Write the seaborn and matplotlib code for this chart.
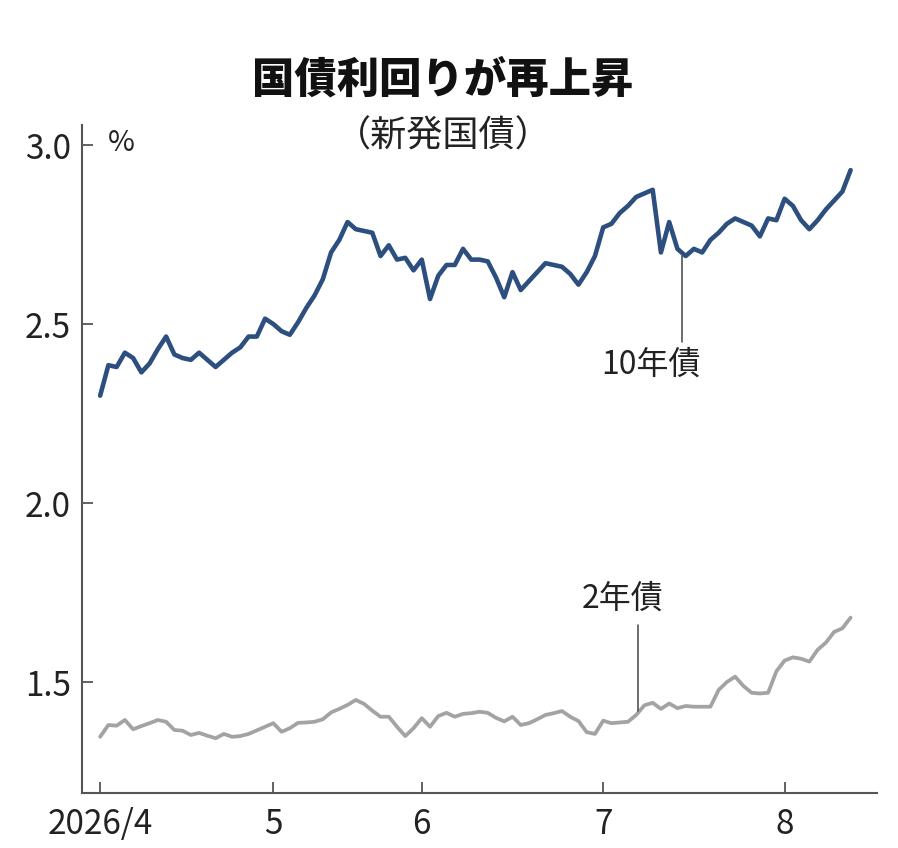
import matplotlib
matplotlib.use("Agg")
import matplotlib.pyplot as plt
import pandas as pd
import seaborn as sns

# trading-day index, Apr 1 2026 -> mid Aug 2026
month_ticks = [0, 21, 39, 61, 83]
month_labels = ["2026/4", "5", "6", "7", "8"]

yield_10y = [
    2.30, 2.385, 2.38, 2.42, 2.405, 2.365, 2.39, 2.43, 2.465, 2.415,
    2.405, 2.40, 2.42, 2.40, 2.38, 2.40, 2.42, 2.435, 2.465, 2.465,
    2.515, 2.50, 2.48, 2.47, 2.505, 2.545, 2.58, 2.625, 2.70, 2.735,
    2.785, 2.765, 2.76, 2.755, 2.69, 2.72, 2.68, 2.685, 2.65, 2.68,
    2.57, 2.635, 2.665, 2.665, 2.71, 2.68, 2.68, 2.675, 2.63, 2.575,
    2.645, 2.595, 2.62, 2.645, 2.67, 2.665, 2.66, 2.64, 2.61, 2.645,
    2.69, 2.77, 2.78, 2.81, 2.83, 2.855, 2.865, 2.875, 2.70, 2.785,
    2.71, 2.69, 2.71, 2.70, 2.735, 2.755, 2.78, 2.795, 2.785, 2.775,
    2.745, 2.795, 2.79, 2.85, 2.83, 2.79, 2.765, 2.79, 2.82, 2.845,
    2.87, 2.93,
]

yield_2y = [
    1.347, 1.38, 1.378, 1.394, 1.368, 1.377, 1.385, 1.394, 1.389, 1.366,
    1.364, 1.352, 1.358, 1.35, 1.343, 1.355, 1.347, 1.349, 1.355, 1.365,
    1.375, 1.385, 1.361, 1.371, 1.386, 1.387, 1.389, 1.396, 1.415, 1.425,
    1.436, 1.45, 1.439, 1.42, 1.403, 1.403, 1.375, 1.349, 1.371, 1.399,
    1.375, 1.405, 1.414, 1.403, 1.411, 1.413, 1.417, 1.414, 1.40, 1.39,
    1.403, 1.38, 1.385, 1.396, 1.408, 1.413, 1.419, 1.403, 1.391, 1.36,
    1.355, 1.392, 1.385, 1.387, 1.389, 1.408, 1.435, 1.442, 1.425, 1.44,
    1.427, 1.433, 1.431, 1.431, 1.431, 1.478, 1.50, 1.515, 1.489, 1.47,
    1.468, 1.47, 1.53, 1.56, 1.569, 1.565, 1.557, 1.59, 1.61, 1.64,
    1.65, 1.68,
]

df = pd.DataFrame({
    "day": list(range(len(yield_10y))) * 2,
    "yield": yield_10y + yield_2y,
    "bond": ["10年債"] * len(yield_10y) + ["2年債"] * len(yield_2y),
})

sns.set_theme(style="white")
plt.rcParams["font.family"] = ["Noto Sans CJK JP", "DejaVu Sans"]
num_font = ["Liberation Sans Narrow", "Noto Sans CJK JP", "DejaVu Sans"]

fig = plt.figure(figsize=(8.98, 8.48), dpi=100)
ax = fig.add_axes([82 / 898, 1 - 793 / 848, (877 - 82) / 898, (793 - 125) / 848])

sns.lineplot(data=df, x="day", y="yield", hue="bond",
             palette={"10年債": "#2d4f7f", "2年債": "#a3a3a3"},
             linewidth=3.0, legend=False, ax=ax)
ax.lines[0].set_linewidth(3.3)
ax.lines[1].set_linewidth(2.7)

ax.set_xlim(-2.2, 94.2)
ax.set_ylim(1.19, 3.056)
ax.set_xticks(month_ticks)
ax.set_xticklabels(month_labels)
ax.set_yticks([1.5, 2.0, 2.5, 3.0])
ax.set_yticklabels(["1.5", "2.0", "2.5", "3.0"])
ax.set_xlabel("")
ax.set_ylabel("")

for lab in ax.get_xticklabels() + ax.get_yticklabels():
    lab.set_family(num_font)
    lab.set_fontsize(24)
    lab.set_color("#222222")

ax.tick_params(axis="both", direction="in", length=8, width=1.3,
               color="#555555", left=True, bottom=True)
ax.tick_params(axis="y", pad=8)
ax.tick_params(axis="x", pad=10)

for side in ["top", "right"]:
    ax.spines[side].set_visible(False)
for side in ["left", "bottom"]:
    ax.spines[side].set_color("#555555")
    ax.spines[side].set_linewidth(1.5)

# annotation leaders
ax.plot([70.6, 70.6], [2.69, 2.45], color="#444444", linewidth=1.1)
ax.text(66.8, 2.386, "10年債", family=num_font, fontsize=23,
        ha="center", va="center", color="#222222")
ax.plot([65.2, 65.2], [1.42, 1.659], color="#444444", linewidth=1.1)
ax.text(63.4, 1.732, "2年債", family=num_font, fontsize=23,
        ha="center", va="center", color="#222222")

fig.text(108 / 898, 1 - 143 / 848, "%", family=num_font, fontsize=21,
         ha="left", va="center", color="#222222")
fig.text(443 / 898, 1 - 80 / 848, "国債利回りが再上昇", fontsize=30.5,
         fontweight="black", ha="center", va="center", color="#111111")
fig.text(443 / 898, 1 - 137 / 848, "（新発国債）", fontsize=26,
         ha="center", va="center", color="#222222")

fig.savefig("out.png", dpi=100, facecolor="white")
